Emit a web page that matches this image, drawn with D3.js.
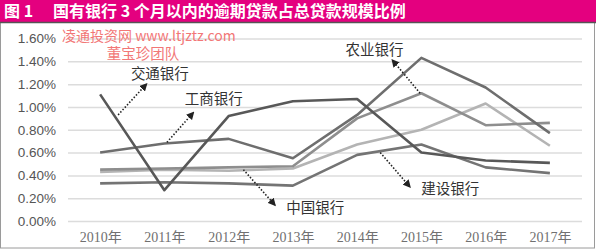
<html>
<head>
<meta charset="utf-8">
<script src="https://d3js.org/d3.v7.min.js"></script>
<style>
  body { margin: 0; background: #fff; }
</style>
</head>
<body>
<div id="chart"></div>
<script>
    // data (percent)
    var years = ["2010年", "2011年", "2012年", "2013年", "2014年", "2015年", "2016年", "2017年"]
    var yTicks = [0, 0.2, 0.4, 0.6, 0.8, 1.0, 1.2, 1.4, 1.6]
    var jiaotong = [1.11, 0.27, 0.92, 1.05, 1.07, 0.60, 0.53, 0.51]
    var gongshang = [0.60, 0.68, 0.72, 0.55, 0.93, 1.43, 1.17, 0.77]
    var nongye = [0.45, 0.46, 0.47, 0.48, 0.90, 1.12, 0.84, 0.86]
    var zhongguo = [0.43, 0.45, 0.44, 0.46, 0.67, 0.80, 1.03, 0.66]
    var jianshe = [0.33, 0.34, 0.33, 0.31, 0.58, 0.67, 0.47, 0.42]

    var series = [
        {name: "建设银行", values: jianshe, color: "#747474"},
        {name: "中国银行", values: zhongguo, color: "#b4b4b4"},
        {name: "农业银行", values: nongye, color: "#8e8e8e"},
        {name: "工商银行", values: gongshang, color: "#6e6e6e"},
        {name: "交通银行", values: jiaotong, color: "#585858"}
    ]

    // label + arrow positions in data units: [year index, percent]
    var notes = [
        {name: "交通银行", tail: [0.28, 0.93], head: [0.72, 1.20], label: [0.93, 1.30]},
        {name: "工商银行", tail: [1.04, 0.69], head: [1.45, 0.95], label: [1.77, 1.08]},
        {name: "农业银行", tail: [4.98, 1.12], head: [4.55, 1.41], label: [4.27, 1.51]},
        {name: "中国银行", tail: [2.23, 0.45], head: [2.72, 0.14], label: [3.35, 0.13]},
        {name: "建设银行", tail: [4.36, 0.60], head: [4.82, 0.30], label: [5.45, 0.29]}
    ]

    var W = 597, H = 250
    var plotLeft = 68, plotRight = 582, plotTop = 38.5, plotBottom = 221

    var svg = d3.select("#chart")
        .append("svg")
        .attr("width", W)
        .attr("height", H)
        .style("font-family", "'Noto Sans CJK SC', 'Noto Sans', sans-serif")

    // frame
    svg.append("rect")
        .attr("x", 0.5).attr("y", 22)
        .attr("width", 594).attr("height", 226)
        .attr("fill", "#fff")
        .attr("stroke", "#9a9a9a")

    // title bar
    svg.append("rect")
        .attr("x", 0).attr("y", 0)
        .attr("width", 596).attr("height", 22)
        .attr("fill", "#e4007f")
    svg.append("line")
        .attr("x1", 0).attr("x2", 596)
        .attr("y1", 22.5).attr("y2", 22.5)
        .attr("stroke", "#555").attr("stroke-width", 1.5)
    svg.append("text")
        .attr("x", 4).attr("y", 17)
        .attr("fill", "#fff")
        .attr("font-size", 16).attr("font-weight", "bold")
        .text("图 1")
    svg.append("text")
        .attr("x", 53).attr("y", 17)
        .attr("fill", "#fff")
        .attr("font-size", 16).attr("font-weight", "bold")
        .text("国有银行 3 个月以内的逾期贷款占总贷款规模比例")

    var x = d3.scalePoint().domain(years).range([plotLeft, plotRight]).padding(0.5)
    var xi = d3.scaleLinear().domain([0, years.length - 1]).range([x(years[0]), x(years[years.length - 1])])
    var y = d3.scaleLinear().domain([0, 1.6]).range([plotBottom, plotTop])

    // y axis + grid
    var yAxis = svg.append("g")
        .attr("transform", "translate(" + plotLeft + ",0)")
        .call(d3.axisLeft(y).tickValues(yTicks).tickSize(-(plotRight - plotLeft)).tickPadding(12)
            .tickFormat(function(d){ return d3.format(".2f")(d) + "%" }))
    yAxis.select(".domain").remove()
    yAxis.selectAll("line").attr("stroke", "#dcdcdc").attr("stroke-width", 1.5)
    yAxis.selectAll("text")
        .attr("fill", "#555")
        .attr("font-size", 13.5)
        .style("font-family", "'Liberation Sans', Arial, sans-serif")

    // x axis
    var xAxis = svg.append("g")
        .attr("transform", "translate(0," + plotBottom + ")")
        .call(d3.axisBottom(x).tickSize(0).tickPadding(11))
    xAxis.select(".domain").remove()
    xAxis.selectAll("text")
        .attr("fill", "#707070")
        .attr("font-size", 14)
        .style("font-family", "'Liberation Serif', 'Noto Sans CJK SC', serif")

    // watermark
    svg.append("text")
        .attr("x", 62).attr("y", 40.5)
        .attr("fill", "#f27777").attr("font-size", 14)
        .text("凌通投资网 www.ltjztz.com")
    svg.append("text")
        .attr("x", 143).attr("y", 58.5)
        .attr("text-anchor", "middle")
        .attr("fill", "#f27777").attr("font-size", 14.5)
        .text("董宝珍团队")

    var line = d3.line()
        .x(function(d, i){ return x(years[i]) })
        .y(function(d){ return y(d) })

    svg.selectAll(".series")
        .data(series)
        .enter()
        .append("path")
        .attr("class", "series")
        .attr("d", function(d){ return line(d.values) })
        .attr("fill", "none")
        .attr("stroke", function(d){ return d.color })
        .attr("stroke-width", 2.6)
        .attr("stroke-linejoin", "round")

    // arrow heads
    svg.append("defs").append("marker")
        .attr("id", "arrow")
        .attr("viewBox", "0 0 10 10")
        .attr("refX", 8).attr("refY", 5)
        .attr("markerWidth", 5).attr("markerHeight", 5)
        .attr("orient", "auto")
        .append("path")
        .attr("d", "M0,0 L10,5 L0,10 z")
        .attr("fill", "#222")

    var note = svg.selectAll(".note")
        .data(notes)
        .enter()
        .append("g")
        .attr("class", "note")

    note.append("line")
        .attr("x1", function(d){ return xi(d.tail[0]) })
        .attr("y1", function(d){ return y(d.tail[1]) })
        .attr("x2", function(d){ return xi(d.head[0]) })
        .attr("y2", function(d){ return y(d.head[1]) })
        .attr("stroke", "#222")
        .attr("stroke-width", 1.6)
        .attr("stroke-dasharray", "1.5,1.8")
        .attr("marker-end", "url(#arrow)")

    note.append("text")
        .attr("x", function(d){ return xi(d.label[0]) })
        .attr("y", function(d){ return y(d.label[1]) })
        .attr("text-anchor", "middle")
        .attr("dominant-baseline", "central")
        .attr("font-size", 14.5)
        .attr("fill", "#333")
        .text(function(d){ return d.name })
</script>
</body>
</html>
